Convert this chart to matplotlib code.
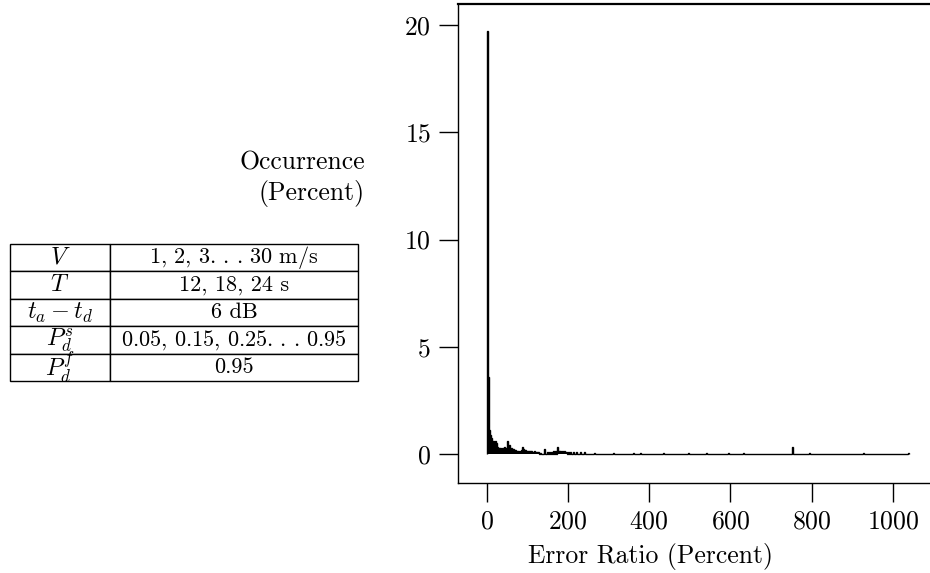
import numpy as np
import matplotlib
matplotlib.use("Agg")
import matplotlib.pyplot as plt

plt.rcParams['font.family'] = 'serif'
plt.rcParams['font.serif'] = ['cmr10', 'DejaVu Serif']
plt.rcParams['mathtext.fontset'] = 'cm'
plt.rcParams['axes.unicode_minus'] = False
plt.rcParams['axes.formatter.use_mathtext'] = True

# ---- data ----
bin_width = 2.5
bin_left = [0, 2.5, 5, 7.5, 10, 12.5, 15, 17.5, 20, 22.5, 25, 27.5, 30, 32.5, 35,
            37.5, 40, 42.5, 45, 47.5, 50, 52.5, 55, 57.5, 60, 62.5, 65, 67.5, 70,
            72.5, 75, 77.5, 80, 82.5, 85, 87.5, 90, 92.5, 95, 97.5, 100, 102.5,
            105, 107.5, 110, 112.5, 115, 117.5, 120, 122.5, 125, 130, 140, 147.5,
            152.5, 157.5, 162.5, 167.5, 172.5, 175, 177.5, 180, 182.5, 185, 187.5,
            190, 192.5, 195, 200, 205, 212.5, 220, 230, 240, 265, 310, 360, 377.5,
            435, 495, 540, 595, 630, 752.5, 792.5, 927.5, 1037.5]
occurrence = [19.7, 3.6, 1.1, 0.9, 0.75, 0.55, 0.6, 0.45, 0.6, 0.5, 0.35, 0.3, 0.28,
              0.3, 0.25, 0.3, 0.28, 0.35, 0.3, 0.25, 0.62, 0.3, 0.4, 0.25, 0.27,
              0.22, 0.25, 0.18, 0.2, 0.12, 0.15, 0.12, 0.1, 0.15, 0.2, 0.33, 0.22,
              0.2, 0.18, 0.15, 0.15, 0.12, 0.14, 0.12, 0.13, 0.1, 0.12, 0.1, 0.1,
              0.08, 0.1, 0.06, 0.22, 0.08, 0.1, 0.08, 0.12, 0.15, 0.31, 0.15, 0.12,
              0.12, 0.1, 0.12, 0.1, 0.12, 0.1, 0.1, 0.08, 0.1, 0.1, 0.09, 0.09,
              0.08, 0.07, 0.07, 0.07, 0.07, 0.07, 0.07, 0.07, 0.07, 0.07, 0.33,
              0.07, 0.07, 0.05]
x_ticks = [0, 200, 400, 600, 800, 1000]
y_ticks = [0, 5, 10, 15, 20]

table_params = [r'$V$', r'$T$', r'$t_a - t_d$', r'$P_d^s$', r'$P_d^f$']
table_values = [r'1, 2, 3$.\,.\,.\,$30 m/s', '12, 18, 24 s', '6 dB',
                r'0.05, 0.15, 0.25$.\,.\,.\,$0.95', '0.95']

# ---- figure ----
W, H = 930, 573
fig = plt.figure(figsize=(W / 100, H / 100), dpi=100)

ax_l, ax_r, ax_t, ax_b = 458, 935, 4, 483
ax = fig.add_axes([ax_l / W, 1 - ax_b / H, (ax_r - ax_l) / W, (ax_b - ax_t) / H])

edges = np.arange(0, max(bin_left) + 2 * bin_width, bin_width)
heights = np.zeros(len(edges) - 1)
idx = np.round(np.array(bin_left) / bin_width).astype(int)
heights[idx] = occurrence
ax.stairs(heights, edges, fill=True, color='black', linewidth=1.0)
ax.stairs(heights, edges, fill=False, color='black', linewidth=1.0, baseline=0)

ax.set_xlim(-71, 1104)
ax.set_ylim(-1.35, 20.98)
ax.set_xticks(x_ticks)
ax.set_yticks(y_ticks)
ax.tick_params(direction='out', length=13.5, width=1.0, pad=6, labelsize=18.5)
for s in ax.spines.values():
    s.set_linewidth(1.0)
ax.spines['top'].set_linewidth(1.6)

fig.text(650 / W, 1 - 556 / H, 'Error Ratio (Percent)', ha='center', va='center',
         fontsize=18.5)
fig.text(365 / W, 1 - 179 / H, 'Occurrence\n(Percent)', ha='right', va='center',
         multialignment='right', fontsize=18.5, linespacing=1.3)

# ---- table ----
tl, tr, tt, tb = 10, 358, 244, 381
tax = fig.add_axes([tl / W, 1 - tb / H, (tr - tl) / W, (tb - tt) / H])
tax.axis('off')
cells = [[p, v] for p, v in zip(table_params, table_values)]
tbl = tax.table(cellText=cells, cellLoc='center', bbox=[0, 0, 1, 1],
                colWidths=[100 / 348, 248 / 348])
tbl.auto_set_font_size(False)
for (r, c), cell in tbl.get_celld().items():
    cell.set_linewidth(1.0)
    cell.set_edgecolor('black')
    cell.get_text().set_fontsize(16 if c == 1 else 17.5)

fig.savefig('out.png', dpi=100)
